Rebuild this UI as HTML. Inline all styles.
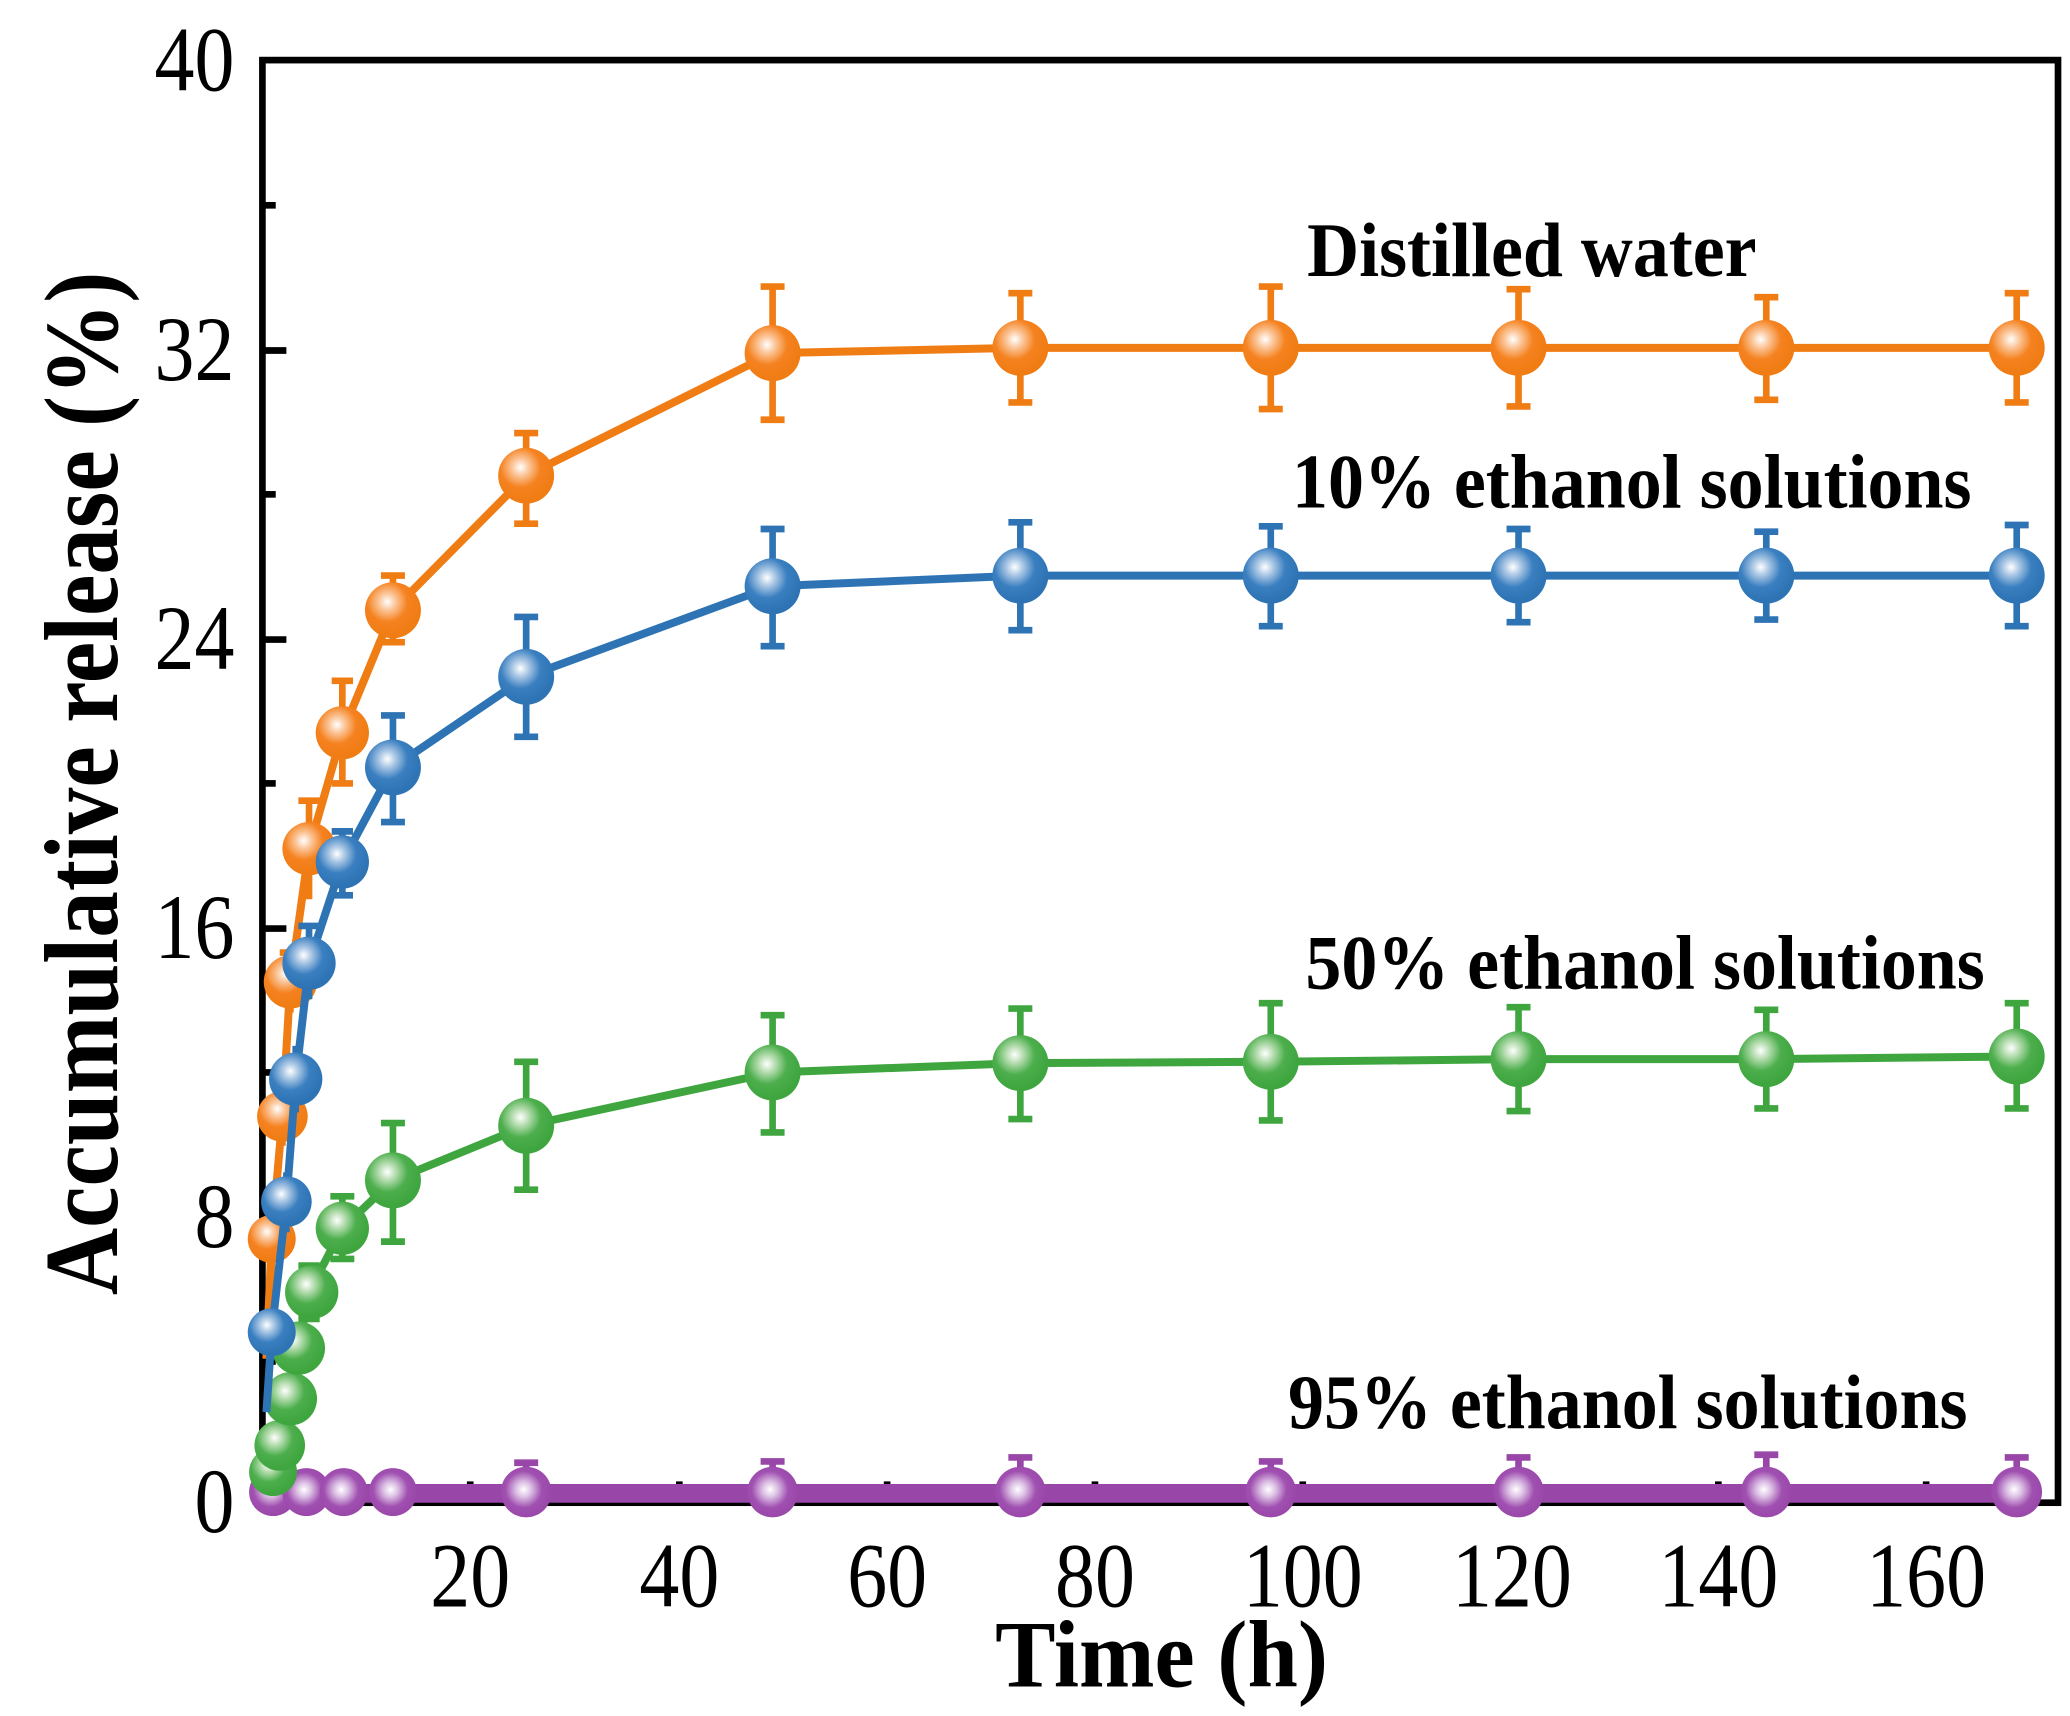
<!DOCTYPE html>
<html><head><meta charset="utf-8"><style>
html,body{margin:0;padding:0;background:#fff}
svg{display:block}
</style></head><body>
<svg width="2070" height="1716" viewBox="0 0 1554 1288" xmlns="http://www.w3.org/2000/svg">
<defs>
<radialGradient id="go" cx="0.4" cy="0.35" r="0.6"><stop offset="0" stop-color="#fff"/><stop offset="0.25" stop-color="#fbc69a"/><stop offset="0.6" stop-color="#f58220"/><stop offset="1" stop-color="#f07c14"/></radialGradient>
<radialGradient id="gb" cx="0.4" cy="0.35" r="0.6"><stop offset="0" stop-color="#fff"/><stop offset="0.25" stop-color="#a9c6e4"/><stop offset="0.6" stop-color="#3a7fc0"/><stop offset="1" stop-color="#2e74b5"/></radialGradient>
<radialGradient id="gg" cx="0.4" cy="0.35" r="0.6"><stop offset="0" stop-color="#fff"/><stop offset="0.25" stop-color="#b6ddb0"/><stop offset="0.6" stop-color="#4cae4c"/><stop offset="1" stop-color="#3fa63f"/></radialGradient>
<radialGradient id="gp" cx="0.45" cy="0.45" r="0.6"><stop offset="0" stop-color="#fff"/><stop offset="0.25" stop-color="#dcc0e4"/><stop offset="0.6" stop-color="#a050b0"/><stop offset="1" stop-color="#9846a8"/></radialGradient>
</defs>

<g font-family="Liberation Serif, serif" fill="#000">
<g font-size="60" text-anchor="end">
<text transform="translate(176,68) scale(1,1.15)">40</text>
<text transform="translate(176,285) scale(1,1.15)">32</text>
<text transform="translate(176,502) scale(1,1.15)">24</text>
<text transform="translate(176,719) scale(1,1.15)">16</text>
<text transform="translate(176,936) scale(1,1.15)">8</text>
<text transform="translate(176,1150) scale(1,1.15)">0</text>
</g>
<g font-size="60" text-anchor="middle">
<text transform="translate(353,1206) scale(1,1.15)">20</text>
<text transform="translate(510,1206) scale(1,1.15)">40</text>
<text transform="translate(666,1206) scale(1,1.15)">60</text>
<text transform="translate(822,1206) scale(1,1.15)">80</text>
<text transform="translate(978,1206) scale(1,1.15)">100</text>
<text transform="translate(1135,1206) scale(1,1.15)">120</text>
<text transform="translate(1290,1206) scale(1,1.15)">140</text>
<text transform="translate(1446,1206) scale(1,1.15)">160</text>
</g>
<text transform="translate(872,1266) scale(1,1.05)" font-size="68" font-weight="bold" text-anchor="middle">Time (h)</text>
<text transform="translate(88,588) rotate(-90) scale(1,1.12)" font-size="70" font-weight="bold" text-anchor="middle">Accumulative release (%)</text>
<g font-size="54" font-weight="bold" text-anchor="middle">
<text transform="translate(1150,207) scale(1,1.08)">Distilled water</text>
<text transform="translate(1225,381) scale(1,1.08)">10% ethanol solutions</text>
<text transform="translate(1235,742) scale(1,1.08)">50% ethanol solutions</text>
<text transform="translate(1222,1072) scale(1,1.08)">95% ethanol solutions</text>
</g>
</g>

<rect x="197" y="45" width="1348" height="1083" fill="none" stroke="#000" stroke-width="5"/>
<g stroke="#000" stroke-width="5">
<line x1="197" y1="263" x2="215" y2="263"/><line x1="197" y1="480" x2="215" y2="480"/>
<line x1="197" y1="697" x2="215" y2="697"/><line x1="197" y1="914" x2="215" y2="914"/>
<line x1="197" y1="154" x2="207" y2="154"/><line x1="197" y1="371" x2="207" y2="371"/>
<line x1="197" y1="588" x2="207" y2="588"/><line x1="197" y1="805" x2="207" y2="805"/>
<line x1="197" y1="1022" x2="207" y2="1022"/>
<line x1="353" y1="1128" x2="353" y2="1112"/><line x1="510" y1="1128" x2="510" y2="1112"/>
<line x1="666" y1="1128" x2="666" y2="1112"/><line x1="822" y1="1128" x2="822" y2="1112"/>
<line x1="978" y1="1128" x2="978" y2="1112"/><line x1="1135" y1="1128" x2="1135" y2="1112"/>
<line x1="1290" y1="1128" x2="1290" y2="1112"/><line x1="1446" y1="1128" x2="1446" y2="1112"/>
</g>

<g stroke="#9846a8" stroke-width="5" fill="none">
<polyline stroke-width="14" points="200,1121 230,1121 260,1121 295,1121 395,1121 580,1121 766,1121 954,1121 1140,1121 1326,1121 1514,1121"/>
<path d="M395 1120V1098M386 1098H404M580 1120V1097M571 1097H589M766 1120V1094M757 1094H775M954 1120V1097M945 1097H963M1140 1120V1094M1131 1094H1149M1326 1120V1092M1317 1092H1335M1514 1120V1094M1505 1094H1523"/>
</g>
<g fill="url(#gp)">
<circle cx="205" cy="1120" r="18"/><circle cx="230" cy="1120" r="18"/><circle cx="258" cy="1120" r="18"/><circle cx="295" cy="1120" r="18"/>
<circle cx="395" cy="1120" r="19"/><circle cx="580" cy="1120" r="19"/><circle cx="766" cy="1120" r="19"/><circle cx="954" cy="1120" r="19"/><circle cx="1140" cy="1120" r="19"/><circle cx="1326" cy="1120" r="19"/><circle cx="1514" cy="1120" r="19"/>
</g>

<g stroke="#3fa63f" stroke-width="5" fill="none">
<polyline stroke-width="6" points="203,1110 210,1085 218,1050 224,1012 232,970 257,922 295,886 395,845 580,805 766,798 954,797 1140,795 1326,795 1514,793"/>
<path d="M257 898V945M248 898H266M248 945H266M295 843V932M286 843H304M286 932H304M395 797V893M386 797H404M386 893H404M580 762V850M571 762H589M571 850H589M766 757V840M757 757H775M757 840H775M954 753V841M945 753H963M945 841H963M1140 756V834M1131 756H1149M1131 834H1149M1326 758V832M1317 758H1335M1317 832H1335M1514 753V832M1505 753H1523M1505 832H1523M232 950V990M224 950H240M224 990H240"/>
</g>
<g fill="url(#gg)">
<circle cx="205" cy="1105" r="18"/><circle cx="210" cy="1085" r="19"/><circle cx="218" cy="1050" r="20"/><circle cx="224" cy="1012" r="20"/><circle cx="234" cy="970" r="20"/><circle cx="257" cy="922" r="20"/><circle cx="295" cy="886" r="21"/><circle cx="395" cy="845" r="21"/><circle cx="580" cy="805" r="21"/><circle cx="766" cy="798" r="21"/><circle cx="954" cy="797" r="21"/><circle cx="1140" cy="795" r="21"/><circle cx="1326" cy="795" r="21"/><circle cx="1514" cy="793" r="21"/>
</g>

<g stroke="#f07c14" stroke-width="5" fill="none">
<polyline stroke-width="6" points="200,1020 204,930 212,838 218,737 232,637 257,550 295,458 395,357 580,265 766,261 954,261 1140,261 1326,261 1514,261"/>
<path d="M218 715V760M210 715H226M232 601V675M224 601H240M257 511V588M249 511H265M249 588H265M295 432V482M286 432H304M286 482H304M395 325V393M386 325H404M386 393H404M580 215V315M571 215H589M571 315H589M766 220V302M757 220H775M757 302H775M954 215V307M945 215H963M945 307H963M1140 217V305M1131 217H1149M1131 305H1149M1326 223V300M1317 223H1335M1317 300H1335M1514 220V302M1505 220H1523M1505 302H1523M204 900V960M212 815V860"/>
</g>
<g fill="url(#go)">
<circle cx="204" cy="930" r="18"/><circle cx="212" cy="838" r="19"/><circle cx="218" cy="737" r="20"/><circle cx="232" cy="637" r="20"/><circle cx="257" cy="550" r="20"/><circle cx="295" cy="458" r="21"/><circle cx="395" cy="357" r="21"/><circle cx="580" cy="265" r="21"/><circle cx="766" cy="261" r="21"/><circle cx="954" cy="261" r="21"/><circle cx="1140" cy="261" r="21"/><circle cx="1326" cy="261" r="21"/><circle cx="1514" cy="261" r="21"/>
</g>

<g stroke="#2e74b5" stroke-width="5" fill="none">
<polyline stroke-width="6" points="200,1060 204,1000 215,902 222,810 232,723 257,647 295,576 395,508 580,440 766,432 954,432 1140,432 1326,432 1514,432"/>
<path d="M257 624V672M249 624H265M249 672H265M295 537V617M286 537H304M286 617H304M395 463V553M386 463H404M386 553H404M580 397V485M571 397H589M571 485H589M766 392V473M757 392H775M757 473H775M954 395V470M945 395H963M945 470H963M1140 397V467M1131 397H1149M1131 467H1149M1326 399V465M1317 399H1335M1317 465H1335M1514 394V470M1505 394H1523M1505 470H1523M232 695V750M224 695H240M222 785V835M215 880V925"/>
</g>
<g fill="url(#gb)">
<circle cx="204" cy="1000" r="18"/><circle cx="215" cy="902" r="19"/><circle cx="222" cy="810" r="20"/><circle cx="232" cy="723" r="20"/><circle cx="257" cy="647" r="20"/><circle cx="295" cy="576" r="21"/><circle cx="395" cy="508" r="21"/><circle cx="580" cy="440" r="21"/><circle cx="766" cy="432" r="21"/><circle cx="954" cy="432" r="21"/><circle cx="1140" cy="432" r="21"/><circle cx="1326" cy="432" r="21"/><circle cx="1514" cy="432" r="21"/>
</g>
</svg>
</body></html>
